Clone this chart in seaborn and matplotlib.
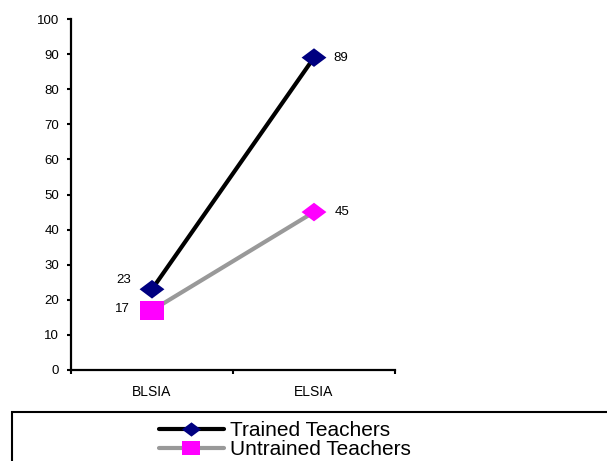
import matplotlib
matplotlib.use("Agg")
import matplotlib.pyplot as plt
import pandas as pd
import seaborn as sns
from matplotlib.path import Path
from matplotlib.patches import Rectangle
from matplotlib.lines import Line2D

# Scores by assessment stage
stages = ["BLSIA", "ELSIA"]
trained = [23, 89]
untrained = [17, 45]
series_names = ["Trained Teachers", "Untrained Teachers"]
point_shapes = {"Trained Teachers": ["diamond", "diamond"],
                "Untrained Teachers": ["square", "diamond"]}
y_ticks = list(range(0, 101, 10))

sns.set_theme(style="white")
plt.rcParams["font.family"] = ["Liberation Sans", "DejaVu Sans"]
plt.rcParams["text.color"] = "black"
plt.rcParams["xtick.color"] = "black"
plt.rcParams["ytick.color"] = "black"

df = pd.DataFrame({
    "stage": stages * 2,
    "pos": [0, 1, 0, 1],
    "value": trained + untrained,
    "series": [series_names[0]] * 2 + [series_names[1]] * 2,
    "shape": point_shapes[series_names[0]] + point_shapes[series_names[1]],
})

line_colors = {series_names[0]: "#000000", series_names[1]: "#999999"}
marker_colors = {series_names[0]: "#000080", series_names[1]: "#ff00ff"}

# Slightly flattened diamond and square markers
diamond = Path([(0, 0.75), (1, 0), (0, -0.75), (-1, 0), (0, 0.75)], closed=True)
square = Path([(-1, -0.78), (1, -0.78), (1, 0.78), (-1, 0.78), (-1, -0.78)], closed=True)

fig = plt.figure(figsize=(6.07, 4.61), dpi=100)
ax = fig.add_axes([71 / 607, 1 - 370 / 461, (395 - 71) / 607, (370 - 19) / 461])

sns.lineplot(data=df, x="pos", y="value", hue="series", palette=line_colors,
             linewidth=3, legend=False, ax=ax, zorder=2)
sns.scatterplot(data=df, x="pos", y="value", hue="series", style="shape",
                markers={"diamond": diamond, "square": square},
                palette=marker_colors, s=320, linewidth=0, legend=False,
                ax=ax, zorder=3)

# Value labels
label_offsets = {
    series_names[0]: [(-15, 6.5, "right"), (14, 0, "left")],
    series_names[1]: [(-16, 1, "right"), (15, 0, "left")],
}
for name, vals in zip(series_names, [trained, untrained]):
    for i, v in enumerate(vals):
        dx, dy, ha = label_offsets[name][i]
        ax.annotate(f"{v}", (i, v), xytext=(dx, dy), textcoords="offset points",
                    ha=ha, va="center", fontsize=9.5, color="black")

ax.set_xlim(-0.5, 1.5)
ax.set_ylim(0, 100)
ax.set_yticks(y_ticks)
ax.set_xticks([0, 1])
ax.set_xticklabels(stages)
ax.set_xticks([-0.5, 0.5, 1.5], minor=True)
ax.set_xlabel("")
ax.set_ylabel("")

for side in ["top", "right"]:
    ax.spines[side].set_visible(False)
for side in ["left", "bottom"]:
    ax.spines[side].set_color("black")
    ax.spines[side].set_linewidth(1.6)

ax.tick_params(axis="y", which="major", direction="out", length=3, width=1.5,
               color="black", labelcolor="black", labelsize=9.5, pad=5.5, left=True)
ax.tick_params(axis="x", which="major", length=0, labelsize=10,
               labelcolor="black", pad=11)
ax.tick_params(axis="x", which="minor", direction="out", length=3, width=1.5,
               color="black", bottom=True)

# Legend box running off the bottom and right of the figure
fig.patches.append(Rectangle((12 / 607, -0.2), 1.2, 0.2 + (1 - 412 / 461),
                             transform=fig.transFigure, fill=False,
                             edgecolor="black", linewidth=1.5))

handles = [
    Line2D([], [], color=line_colors[series_names[0]], lw=3, marker=diamond,
           markersize=13.7, markerfacecolor=marker_colors[series_names[0]],
           markeredgewidth=0),
    Line2D([], [], color=line_colors[series_names[1]], lw=3, marker=square,
           markersize=13, markerfacecolor=marker_colors[series_names[1]],
           markeredgewidth=0),
]
leg = fig.legend(handles, series_names, loc="center left",
                 bbox_to_anchor=(159 / 607, 1 - 440 / 461), frameon=False,
                 fontsize=15, handlelength=3.1, handletextpad=0.33,
                 labelspacing=0.0, borderpad=0, borderaxespad=0)
for t in leg.get_texts():
    t.set_color("black")

fig.savefig("out.png", dpi=100)
